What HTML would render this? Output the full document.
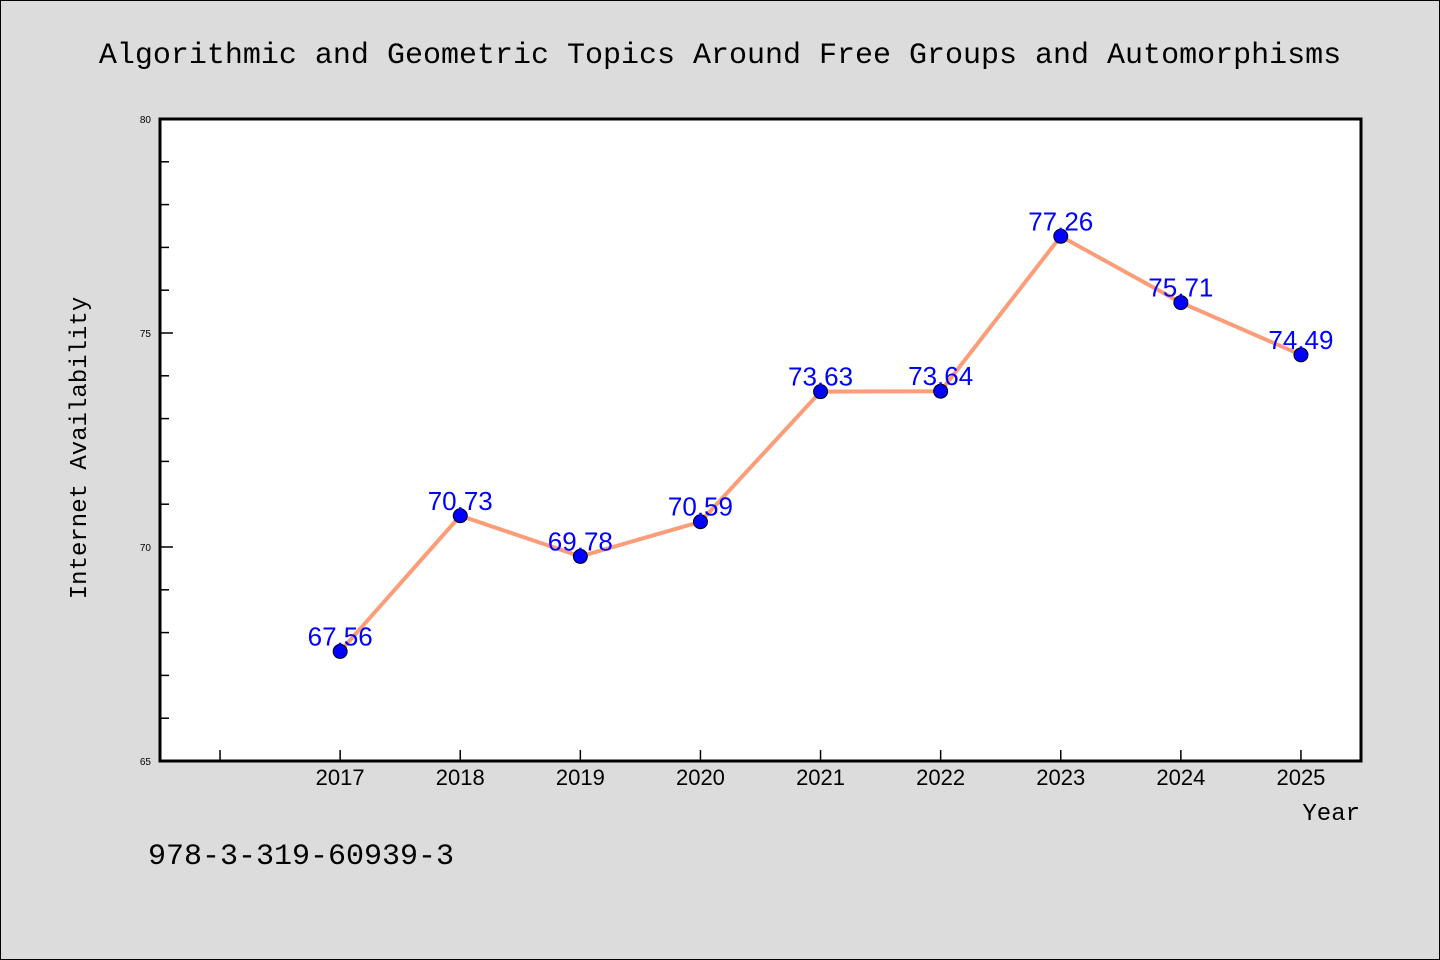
<!DOCTYPE html>
<html><head><meta charset="utf-8"><style>
body{margin:0;background:#dcdcdc;}
svg{display:block;font-family:"WenQuanYi Zen Hei","Liberation Sans",sans-serif;}
</style></head><body>
<svg width="1440" height="960">
<rect x="0.5" y="0.5" width="1439" height="959" fill="#dcdcdc" stroke="#000"/>
<text x="720" y="63" text-anchor="middle" font-size="30" font-family="'Liberation Mono',monospace">Algorithmic and Geometric Topics Around Free Groups and Automorphisms</text>
<rect x="160" y="119" width="1201" height="642" fill="#fff"/>
<g id="axes"></g>
<g id="marks"></g>
<rect x="160" y="119" width="1201" height="642" fill="none" stroke="#000" stroke-width="3"/>
<text x="86" y="448" transform="rotate(-90 86 448)" text-anchor="middle" font-size="24" font-family="'Liberation Mono',monospace">Internet Availability</text>
<text x="1360" y="820" text-anchor="end" font-size="24" font-family="'Liberation Mono',monospace">Year</text>
<text x="148" y="864" font-size="30" font-family="'Liberation Mono',monospace">978-3-319-60939-3</text>
</svg>
<script>
const years=[2017,2018,2019,2020,2021,2022,2023,2024,2025];
const values=[67.56,70.73,69.78,70.59,73.63,73.64,77.26,75.71,74.49];
const labels=["67.56","70.73","69.78","70.59","73.63","73.64","77.26","75.71","74.49"];
const yTicks=[65,70,75,80];
const NS="http://www.w3.org/2000/svg";
const x=v=>160+(v-2015.5)*120.1;
const y=v=>761-(v-65)*42.8;
function mk(t,a,p){const e=document.createElementNS(NS,t);for(const k in a)e.setAttribute(k,a[k]);p.appendChild(e);return e;}
const ax=document.getElementById('axes'),mg=document.getElementById('marks');
for(let v=65;v<=80;v++){const major=yTicks.includes(v);
const l=mk('line',{x1:160,x2:160+(major?13:9),y1:y(v),y2:y(v),stroke:'#000','stroke-width':1.5},ax);


if(major){const t=mk('text',{x:151,y:y(v)+4,'text-anchor':'end','font-size':10},ax);t.textContent=v;

}}
for(let yr=2016;yr<=2025;yr++){const l=mk('line',{x1:x(yr),x2:x(yr),y1:761,y2:750,stroke:'#000','stroke-width':1.5},ax);

}
years.forEach(yr=>{const t=mk('text',{x:x(yr),y:785,'text-anchor':'middle','font-size':22},ax);t.textContent=yr;

});
const pl=mk('polyline',{points:years.map((yr,i)=>x(yr)+','+y(values[i])).join(' '),fill:'none',stroke:'#fa9d78','stroke-width':4},mg);


years.forEach((yr,i)=>{const c=mk('circle',{cx:x(yr),cy:y(values[i]),r:7,fill:'#0000ff',stroke:'#000','stroke-width':1},mg);


const t=mk('text',{x:x(yr),y:y(values[i])-6,'text-anchor':'middle','font-size':26,fill:'#0000ff'},mg);t.textContent=labels[i];

});
</script>
</body></html>
